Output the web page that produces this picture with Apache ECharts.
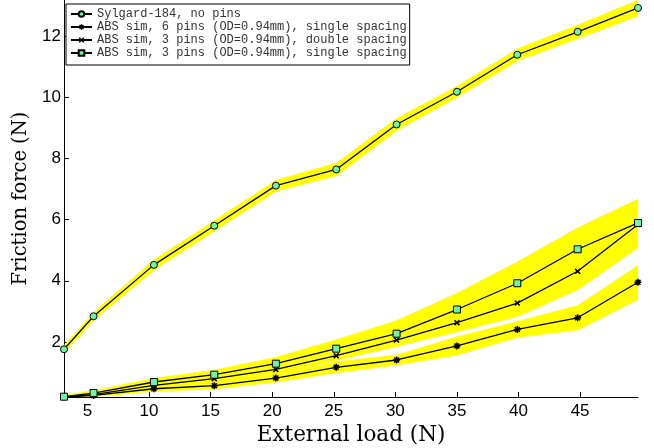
<!DOCTYPE html>
<html>
<head>
<meta charset="utf-8">
<title>Friction force vs external load</title>
<script src="https://cdn.jsdelivr.net/npm/echarts@6/dist/echarts.min.js"></script>
<style>
  html, body { margin: 0; padding: 0; background: #ffffff; }
  #chart { width: 654px; height: 448px; }
</style>
</head>
<body>
<div id="chart"></div>
<script>
// External load (N) applied for each measurement
const loads = [3.1, 5.5, 10.4, 15.3, 20.3, 25.2, 30.1, 35.0, 39.9, 44.8, 49.7];

// Mean friction force (N) and its spread (shaded band) per configuration
const sylgardMean   = [1.76, 2.84, 4.52, 5.80, 7.11, 7.64, 9.11, 10.18, 11.39, 12.14, 12.92];
const sylgardSpread = [0.12, 0.13, 0.17, 0.17, 0.18, 0.21, 0.20, 0.18, 0.20, 0.22, 0.26];

const sixPinMean    = [0.20, 0.25, 0.47, 0.57, 0.82, 1.17, 1.41, 1.87, 2.41, 2.79, 3.95];
const sixPinSpread  = [0.03, 0.05, 0.08, 0.11, 0.13, 0.18, 0.16, 0.30, 0.26, 0.40, 0.55];

const threeDblMean   = [0.20, 0.28, 0.58, 0.80, 1.10, 1.55, 2.06, 2.63, 3.27, 4.31, 5.84];
const threeDblSpread = [0.04, 0.06, 0.10, 0.12, 0.15, 0.15, 0.20, 0.30, 0.44, 0.60, 0.75];

const threeSglMean   = [0.21, 0.33, 0.69, 0.93, 1.29, 1.78, 2.27, 3.06, 3.92, 5.03, 5.89];
const threeSglSpread = [0.05, 0.08, 0.12, 0.15, 0.21, 0.29, 0.43, 0.53, 0.70, 0.70, 0.78];

const seriesNames = [
  'Sylgard-184, no pins',
  'ABS sim, 6 pins (OD=0.94mm), single spacing',
  'ABS sim, 3 pins (OD=0.94mm), double spacing',
  'ABS sim, 3 pins (OD=0.94mm), single spacing'
];

// Axis tick positions
const xTicks = [5, 10, 15, 20, 25, 30, 35, 40, 45];
const yTicks = [2, 4, 6, 8, 10, 12];

const markerFill = '#72f2a4';
const bandColor = '#ffff00';

// Marker shapes: asterisk (+ and x combined) and a plain cross
const asteriskPath = 'path://M-3.6,-0.8L3.6,-0.8L3.6,0.8L-3.6,0.8Z' +
  'M-0.8,-3.6L0.8,-3.6L0.8,3.6L-0.8,3.6Z' +
  'M-1.98,-3.11L3.11,1.98L1.98,3.11L-3.11,-1.98Z' +
  'M-3.11,1.98L1.98,-3.11L3.11,-1.98L-1.98,3.11Z';
const crossPath = 'path://M-1.98,-3.11L3.11,1.98L1.98,3.11L-3.11,-1.98Z' +
  'M-3.11,1.98L1.98,-3.11L3.11,-1.98L-1.98,3.11Z';

// Shaded band drawn segment by segment between mean - spread and mean + spread
function bandSeries(key, mean, spread) {
  const segments = [];
  for (let i = 0; i < loads.length - 1; i++) {
    segments.push([
      loads[i], mean[i] - spread[i], mean[i] + spread[i],
      loads[i + 1], mean[i + 1] - spread[i + 1], mean[i + 1] + spread[i + 1]
    ]);
  }
  return {
    type: 'custom', name: key + ' band', silent: true, z: 1, clip: true,
    encode: { x: [0, 3], y: [1, 2, 4, 5] },
    data: segments,
    renderItem: function (params, api) {
      const lo0 = api.coord([api.value(0), api.value(1)]);
      const hi0 = api.coord([api.value(0), api.value(2)]);
      const lo1 = api.coord([api.value(3), api.value(4)]);
      const hi1 = api.coord([api.value(3), api.value(5)]);
      return {
        type: 'polygon',
        shape: { points: [lo0, lo1, hi1, hi0] },
        style: { fill: bandColor, stroke: bandColor, lineWidth: 0.6 }
      };
    }
  };
}

function meanSeries(name, mean, symbol, size, fill) {
  return {
    type: 'line', name: name, z: 3,
    data: loads.map((x, i) => [x, mean[i]]),
    symbol: symbol, symbolSize: size, showSymbol: true,
    lineStyle: { color: '#000000', width: 1.3 },
    itemStyle: { color: fill, borderColor: '#000000', borderWidth: fill === '#000000' ? 0 : 1 },
    emphasis: { disabled: true }
  };
}

const chart = echarts.init(document.getElementById('chart'), null, { renderer: 'canvas' });

chart.setOption({
  animation: false,
  backgroundColor: '#ffffff',
  grid: { left: 64, right: 16, top: 0, bottom: 51, outerBoundsMode: 'none', containLabel: false },
  legend: {
    data: seriesNames,
    orient: 'vertical',
    left: 66, top: 4,
    padding: [4, 3, 6, 4],
    itemWidth: 21, itemHeight: 7, itemGap: 1,
    borderColor: '#000000', borderWidth: 1,
    backgroundColor: '#ffffff',
    textStyle: { fontFamily: 'Liberation Mono', fontSize: 12, color: '#333333' }
  },
  xAxis: {
    type: 'value', min: 3.1, max: 49.7,
    name: 'External load (N)', nameLocation: 'middle', nameGap: 18,
    nameTextStyle: { fontFamily: 'DejaVu Serif', fontSize: 21.5, color: '#000000' },
    axisLine: { show: true, onZero: false, lineStyle: { color: '#000000', width: 1 } },
    axisTick: { show: true, inside: true, length: 5, customValues: xTicks, lineStyle: { color: '#000000' } },
    axisLabel: { customValues: xTicks, fontFamily: 'Liberation Sans', fontSize: 17, color: '#000000', margin: 6 },
    splitLine: { show: false }
  },
  yAxis: {
    type: 'value', min: 0.2, max: 13.18,
    name: 'Friction force (N)', nameLocation: 'middle', nameGap: 29,
    nameTextStyle: { fontFamily: 'DejaVu Serif', fontSize: 19.5, color: '#000000' },
    axisLine: { show: true, onZero: false, lineStyle: { color: '#000000', width: 1 } },
    axisTick: { show: true, inside: true, length: 5, customValues: yTicks, lineStyle: { color: '#000000' } },
    axisLabel: { customValues: yTicks, fontFamily: 'Liberation Sans', fontSize: 17, color: '#000000', margin: 3 },
    splitLine: { show: false }
  },
  series: [
    bandSeries('sylgard', sylgardMean, sylgardSpread),
    bandSeries('sixPin', sixPinMean, sixPinSpread),
    bandSeries('threeDbl', threeDblMean, threeDblSpread),
    bandSeries('threeSgl', threeSglMean, threeSglSpread),
    meanSeries(seriesNames[0], sylgardMean, 'circle', 7, markerFill),
    meanSeries(seriesNames[1], sixPinMean, asteriskPath, 7, '#000000'),
    meanSeries(seriesNames[2], threeDblMean, crossPath, 6, '#000000'),
    meanSeries(seriesNames[3], threeSglMean, 'rect', 7, markerFill)
  ]
});
</script>
</body>
</html>
